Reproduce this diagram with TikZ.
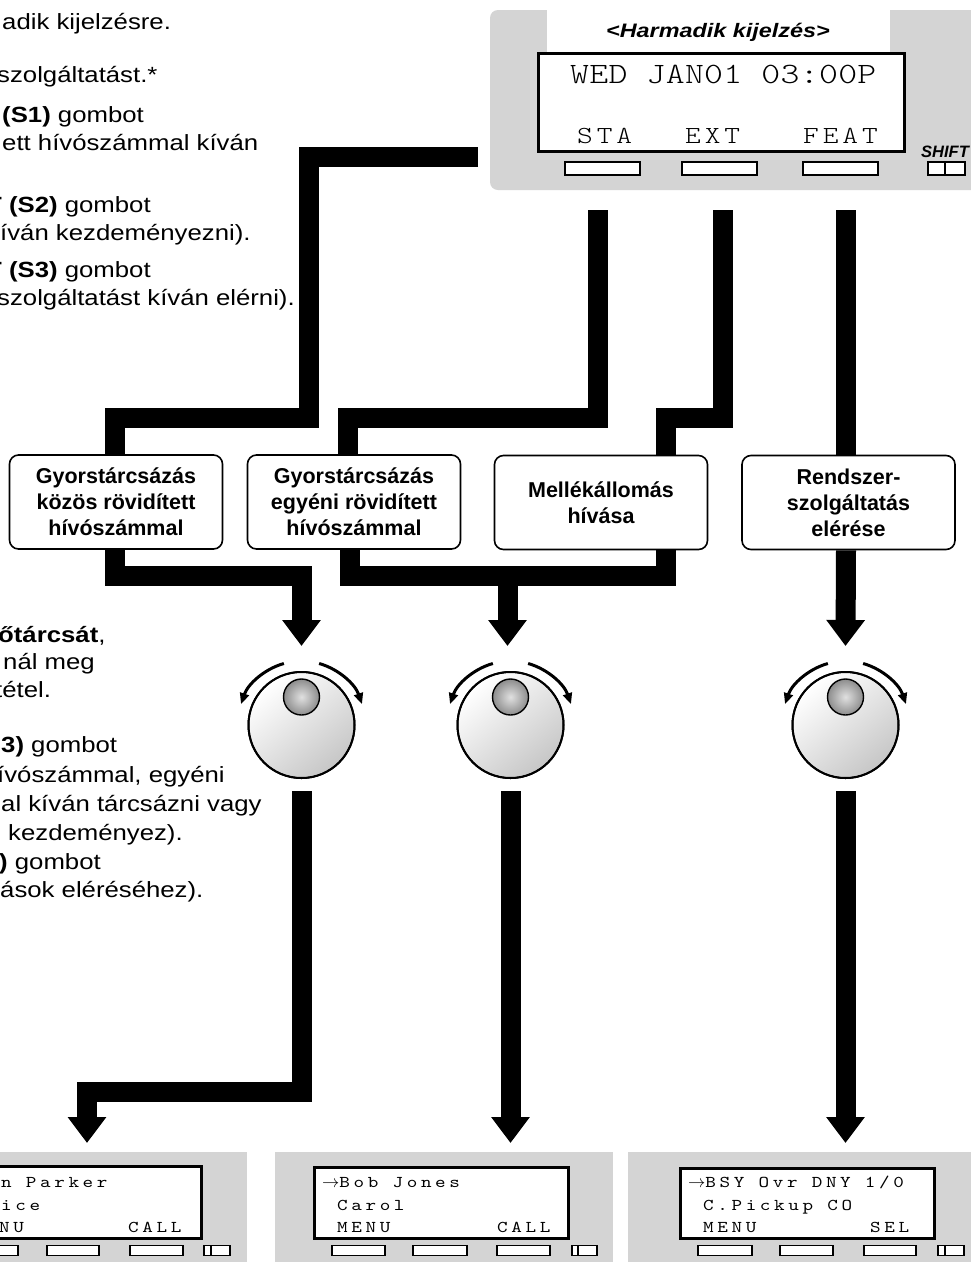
\documentclass[tikz,border=0pt]{standalone}
\usepackage{fontspec}
\setmainfont{Liberation Sans}
\usetikzlibrary{arrows.meta,calc}
\newfontfamily\paraf[FakeStretch=1.17]{Liberation Sans}
\newfontfamily\titlef[FakeStretch=1.2]{Liberation Sans}
\newfontfamily\lcdA[FakeStretch=1.22,LetterSpace=1]{lmmonolt10-regular.otf}
\newfontfamily\lcdB[FakeStretch=1.22,LetterSpace=16]{lmmonolt10-regular.otf}
\newfontfamily\lcdC[FakeStretch=1.22,LetterSpace=22]{lmmono10-regular.otf}
\newcommand\ptext{\paraf\fontsize{22}{27}\selectfont}
\newcommand\boxtext{\fontsize{21.5}{26}\selectfont\bfseries}
\newcommand\lcdbig{\lcdA\fontsize{29.5}{30}\selectfont}
\newcommand\lcdkey{\lcdB\fontsize{24.5}{25}\selectfont}
\newcommand\lcdsmall{\lcdC\fontsize{16.5}{17}\selectfont}
\newcommand\lcdarrow{\smash{$\rightarrow$}}
\begin{document}
\begin{tikzpicture}[x=1pt,y=-1pt,line join=miter,
  panelbg/.style={fill=black!17},
  lcdframe/.style={draw,line width=2.6pt,fill=white,inner sep=0pt,anchor=north west},
  softkey/.style={draw,line width=1.6pt,fill=white,inner sep=0pt,minimum height=13pt},
  smallkey/.style={draw,line width=1.4pt,fill=white,inner sep=0pt,minimum height=10pt},
  para/.style={anchor=base west,inner sep=0pt,font=\ptext},
  lcdtxt/.style={anchor=base west,inner sep=0pt},
  choice/.style={draw,line width=1.6pt,rounded corners=9pt,fill=white,align=center,
     minimum width=213pt,minimum height=94pt,inner sep=0pt,font=\boxtext},
  bar/.style={draw=black,line width=20pt},
  flow/.style={bar,-{Triangle[width=37pt,length=26pt]}},
  dial/.style={circle,draw,line width=2pt,minimum size=106pt,inner sep=0pt},
  knob/.style={circle,draw,line width=1.4pt,minimum size=36pt,inner sep=0pt,inner color=black!12,outer color=black!45},
  turn/.style={line width=3pt,-{Triangle[length=11pt,width=9pt]}}
]
\useasboundingbox (0,0) rectangle (971,1262);
\fill[white] (0,0) rectangle (971,1262);

% ---------- left text (cut at the left edge) ----------
\node[para] (t1)  at (2,29)   {adik kijelzésre.};
\node[para] (t2)  at (-3,82)  {szolgáltatást.*};
\node[para] (t3)  at (2,122)  {\textbf{(S1)} gombot};
\node[para] (t4)  at (2,150)  {ett hívószámmal kíván};
\node[para] (t5)  at (-14,212) {\textbf{T (S2)} gombot};
\node[para] (t6)  at (0,240)  {íván kezdeményezni).};
\node[para] (t7)  at (-14,277) {\textbf{T (S3)} gombot};
\node[para] (t8)  at (-3,305) {szolgáltatást kíván elérni).};
\node[para] (t9)  at (-2,642) {\textbf{őtárcsát},};
\node[para] (t10) at (3,669)  {nál meg};
\node[para] (t11) at (-5,697) {tétel.};
\node[para] (t12) at (1,752)  {\textbf{3)} gombot};
\node[para] (t13) at (-3,782) {ívószámmal, egyéni};
\node[para] (t14) at (1,811)  {al kíván tárcsázni vagy};
\node[para] (t15) at (8,840)  {kezdeményez).};
\node[para] (t16) at (-1,869) {\textbf{)} gombot};
\node[para] (t17) at (0,897)  {ások eléréséhez).};

% ---------- top display panel ----------
\fill[panelbg,rounded corners=8pt] (490,10) rectangle (985,190);
\fill[white] (547,10) rectangle (890,52);
\node[anchor=base,inner sep=0pt,font=\titlef\fontsize{19.5}{20}\selectfont\bfseries\itshape] (title) at (718,37) {<Harmadik kijelzés>};
\node[lcdframe,minimum width=366pt,minimum height=98pt] (lcdT) at (537,52) {};
\node[lcdtxt,font=\lcdbig] (l1) at (570,83) {WED JAN01 03:00P};
\node[lcdtxt,font=\lcdkey] (sta) at (577,143) {STA};
\node[lcdtxt,font=\lcdkey] (ext) at (685,143) {EXT};
\node[lcdtxt,font=\lcdkey] (feat) at (803,143) {FEAT};
\node[softkey,minimum width=75pt] (k1) at (602.5,168.5) {};
\node[softkey,minimum width=75pt] (k2) at (719.5,168.5) {};
\node[softkey,minimum width=75pt] (k3) at (840.5,168.5) {};
\node[softkey,minimum width=37pt] (ks) at (946.5,168.5) {};
\draw[line width=1.4pt] (945,162) -- (945,175);
\node[anchor=base west,inner sep=0pt,font=\fontsize{16.5}{17}\selectfont\bfseries\itshape] (shiftlbl) at (921,157) {SHIFT};

% ---------- choice boxes ----------
\node[choice] (b1) at (116,502) {Gyorstárcsázás\\közös rövidített\\hívószámmal};
\node[choice] (b2) at (354,502) {Gyorstárcsázás\\egyéni rövidített\\hívószámmal};
\node[choice] (b3) at (601,502.5) {Mellékállomás\\hívása};
\node[choice] (b4) at (848.5,502.5) {Rendszer-\\szolgáltatás\\elérése};

% ---------- dials ----------
\foreach \n/\cx in {1/301.5,2/510.5,3/845.5}{
  \node[dial] (d\n) at (\cx,725) {};
  \shade[top color=white,bottom color=black!22,shading angle=40] (d\n.center) circle[radius=52pt];
  \draw[line width=2pt] (d\n.center) circle[radius=53pt];
  \node[knob] (kn\n) at (\cx,697) {};
  \draw[turn] ($(d\n.center)+(-106:64)$) arc[start angle=-106,end angle=-161,radius=64];
  \draw[turn] ($(d\n.center)+(-74:64)$) arc[start angle=-74,end angle=-19,radius=64];
}

% ---------- bottom display panels ----------
\fill[panelbg] (-10,1152) rectangle (247,1272);
\fill[panelbg] (275,1152) rectangle (613,1272);
\fill[panelbg] (628,1152) rectangle (981,1272);
\node[lcdframe,minimum width=210pt,minimum height=72pt] (lcd1) at (-10,1165) {};
\node[lcdframe,minimum width=254pt,minimum height=71pt] (lcd2) at (313,1166) {};
\node[lcdframe,minimum width=254pt,minimum height=70pt] (lcd3) at (679,1167) {};
% panel 1 text
\node[lcdtxt,font=\lcdsmall] (p1a) at (1,1187) {n Parker};
\node[lcdtxt,font=\lcdsmall] (p1b) at (1,1210) {ice};
\node[lcdtxt,font=\lcdsmall] (p1c) at (-1,1232) {NU};
\node[lcdtxt,font=\lcdsmall] (p1d) at (128,1232) {CALL};
% panel 2 text
\node[lcdtxt,font=\lcdsmall] (p2a) at (322,1187) {\lcdarrow Bob Jones};
\node[lcdtxt,font=\lcdsmall] (p2b) at (337,1210) {Carol};
\node[lcdtxt,font=\lcdsmall] (p2c) at (337,1232) {MENU};
\node[lcdtxt,font=\lcdsmall] (p2d) at (497,1232) {CALL};
% panel 3 text
\node[lcdtxt,font=\lcdsmall] (p3a) at (688,1187) {\lcdarrow BSY Ovr DNY 1/0};
\node[lcdtxt,font=\lcdsmall] (p3b) at (703,1210) {C.Pickup CO};
\node[lcdtxt,font=\lcdsmall] (p3c) at (703,1232) {MENU};
\node[lcdtxt,font=\lcdsmall] (p3d) at (870,1232) {SEL};
% keys of bottom panels
\foreach \a/\b [count=\i] in {-20/18,47/99,130/183,332/385,413/467,497/550,698/752,780/833,864/916}{
  \node[smallkey,minimum width={(\b-\a)*1pt}] (sk\i) at ({(\a+\b)/2},1250.5) {};
}
\foreach \a/\m/\b [count=\i] in {204/211/230,572/578/597,938/945/964}{
  \node[smallkey,minimum width={(\b-\a)*1pt}] (ss\i) at ({(\a+\b)/2},1250.5) {};
  \draw[line width=1.4pt] (\m,1245.5) -- (\m,1255.5);
}

% ---------- connectors ----------
\coordinate (s0) at (478,157);
\draw[bar] (s0) -- (308.5,157) -- (308.5,418) -- (115,418) -- ([xshift=-1pt]b1.north);
\draw[bar] ([xshift=-4.5pt,yshift=-34.5pt]k1.south) -- (598,418) -- (348,418) -- ([xshift=-6pt]b2.north);
\draw[bar] ([xshift=3.5pt,yshift=-34.5pt]k2.south) -- (723,418) -- (666,418) -- ([xshift=65pt]b3.north);
\draw[bar] ([xshift=5.5pt,yshift=-34.5pt]k3.south) -- ([xshift=-2.5pt]b4.north);

\draw[flow] ([xshift=-1pt]b1.south) -- (115,576) -- (301.5,576) -- ([yshift=25pt]d1.north);
\draw[bar] ([xshift=-4pt]b2.south) -- (350,576) -- (666,576) -- ([xshift=65pt]b3.south);
\draw[flow] (507.5,566) -- ([yshift=25pt,xshift=-3pt]d2.north);
\draw[flow] ([xshift=-2.5pt]b4.south) -- ([yshift=25pt]d3.north);

\draw[flow] ([yshift=-12pt,xshift=0.5pt]d1.south) -- (302,1092) -- (87,1092) -- (87,1143);
\draw[flow] ([yshift=-12pt]d2.south) -- (510.5,1143);
\draw[flow] ([yshift=-12pt]d3.south) -- (845.5,1143);
\end{tikzpicture}
\end{document}
